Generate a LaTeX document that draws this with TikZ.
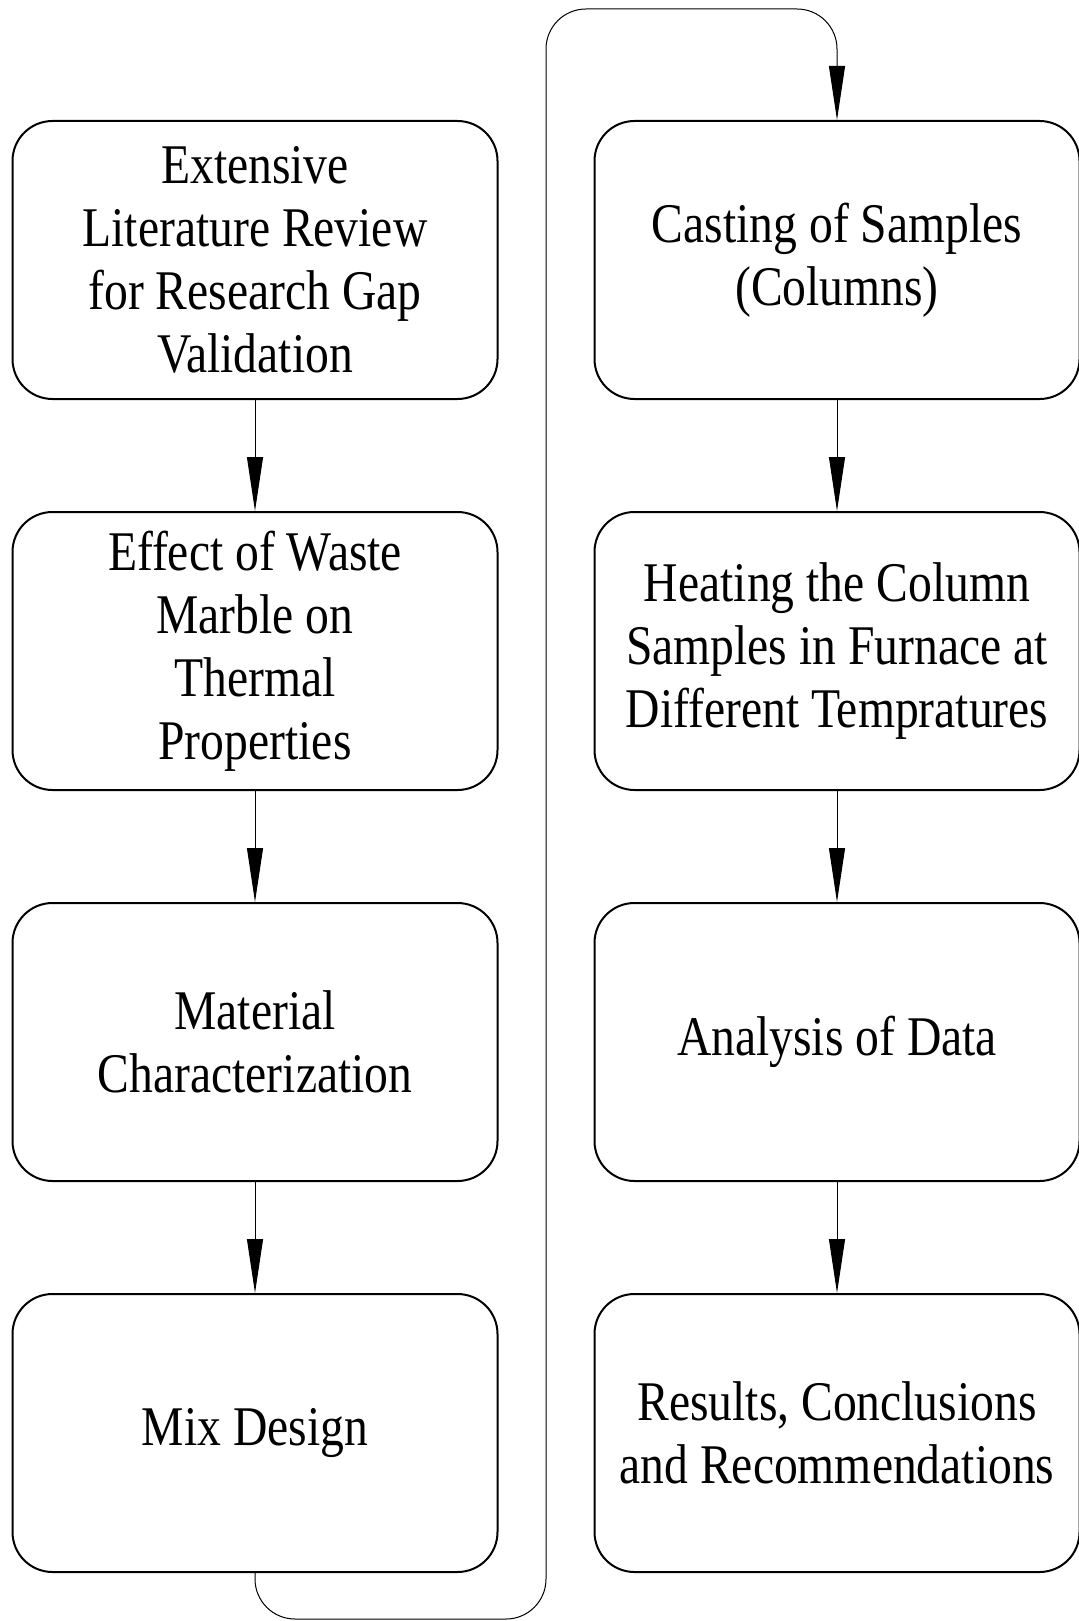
\documentclass[tikz,border=0pt]{standalone}
\usepackage{fontspec}
\setmainfont{Liberation Serif}[FakeStretch=0.85]
\usetikzlibrary{positioning, arrows.meta}

\begin{document}
\begin{tikzpicture}[x=1pt, y=1pt,
	stage/.style={draw, line width=1pt, rounded corners=20pt, minimum width=242.5pt, minimum height=139pt, align=center, inner sep=2pt, font=\fontsize{28}{31.5}\selectfont},
	flow/.style={-{Triangle[length=27pt, width=8pt]}, line width=0.5pt}]
	
	\useasboundingbox (0,0) rectangle (539,-810.5);
	
	%// left column
	\node [stage] (lit) at (127.5, -130) {Extensive\\ Literature Review\\ for Research Gap\\ Validation};
	\node [stage, below=55.5pt of lit] (eff) {Effect of Waste\\ Marble on\\ Thermal\\ Properties};
	\node [stage, below=55.5pt of eff] (mat) {Material\\ Characterization};
	\node [stage, below=55.5pt of mat] (mix) {Mix Design};
	
	%// right column
	\node [stage] (cast) at (418.5, -130) {Casting of Samples\\ (Columns)};
	\node [stage, below=55.5pt of cast] (heat) {Heating the Column\\ Samples in Furnace at\\ Different Tempratures};
	\node [stage, below=55.5pt of heat] (ana) {Analysis of Data};
	\node [stage, below=55.5pt of ana] (res) {Results, Conclusions\\ and Recommendations};
	
	\draw [flow] (lit) -- (eff);
	\draw [flow] (eff) -- (mat);
	\draw [flow] (mat) -- (mix);
	\draw [flow] (cast) -- (heat);
	\draw [flow] (heat) -- (ana);
	\draw [flow] (ana) -- (res);
	
	%// loop from bottom left to top right
	\coordinate (low) at (273, -809.5);
	\coordinate (high) at (273, -4.5);
	\draw [flow, rounded corners=20pt] (mix.south) -- (mix.south |- low) -- (low) -- (high) -- (cast.north |- high) -- (cast.north);
\end{tikzpicture}
\end{document}
